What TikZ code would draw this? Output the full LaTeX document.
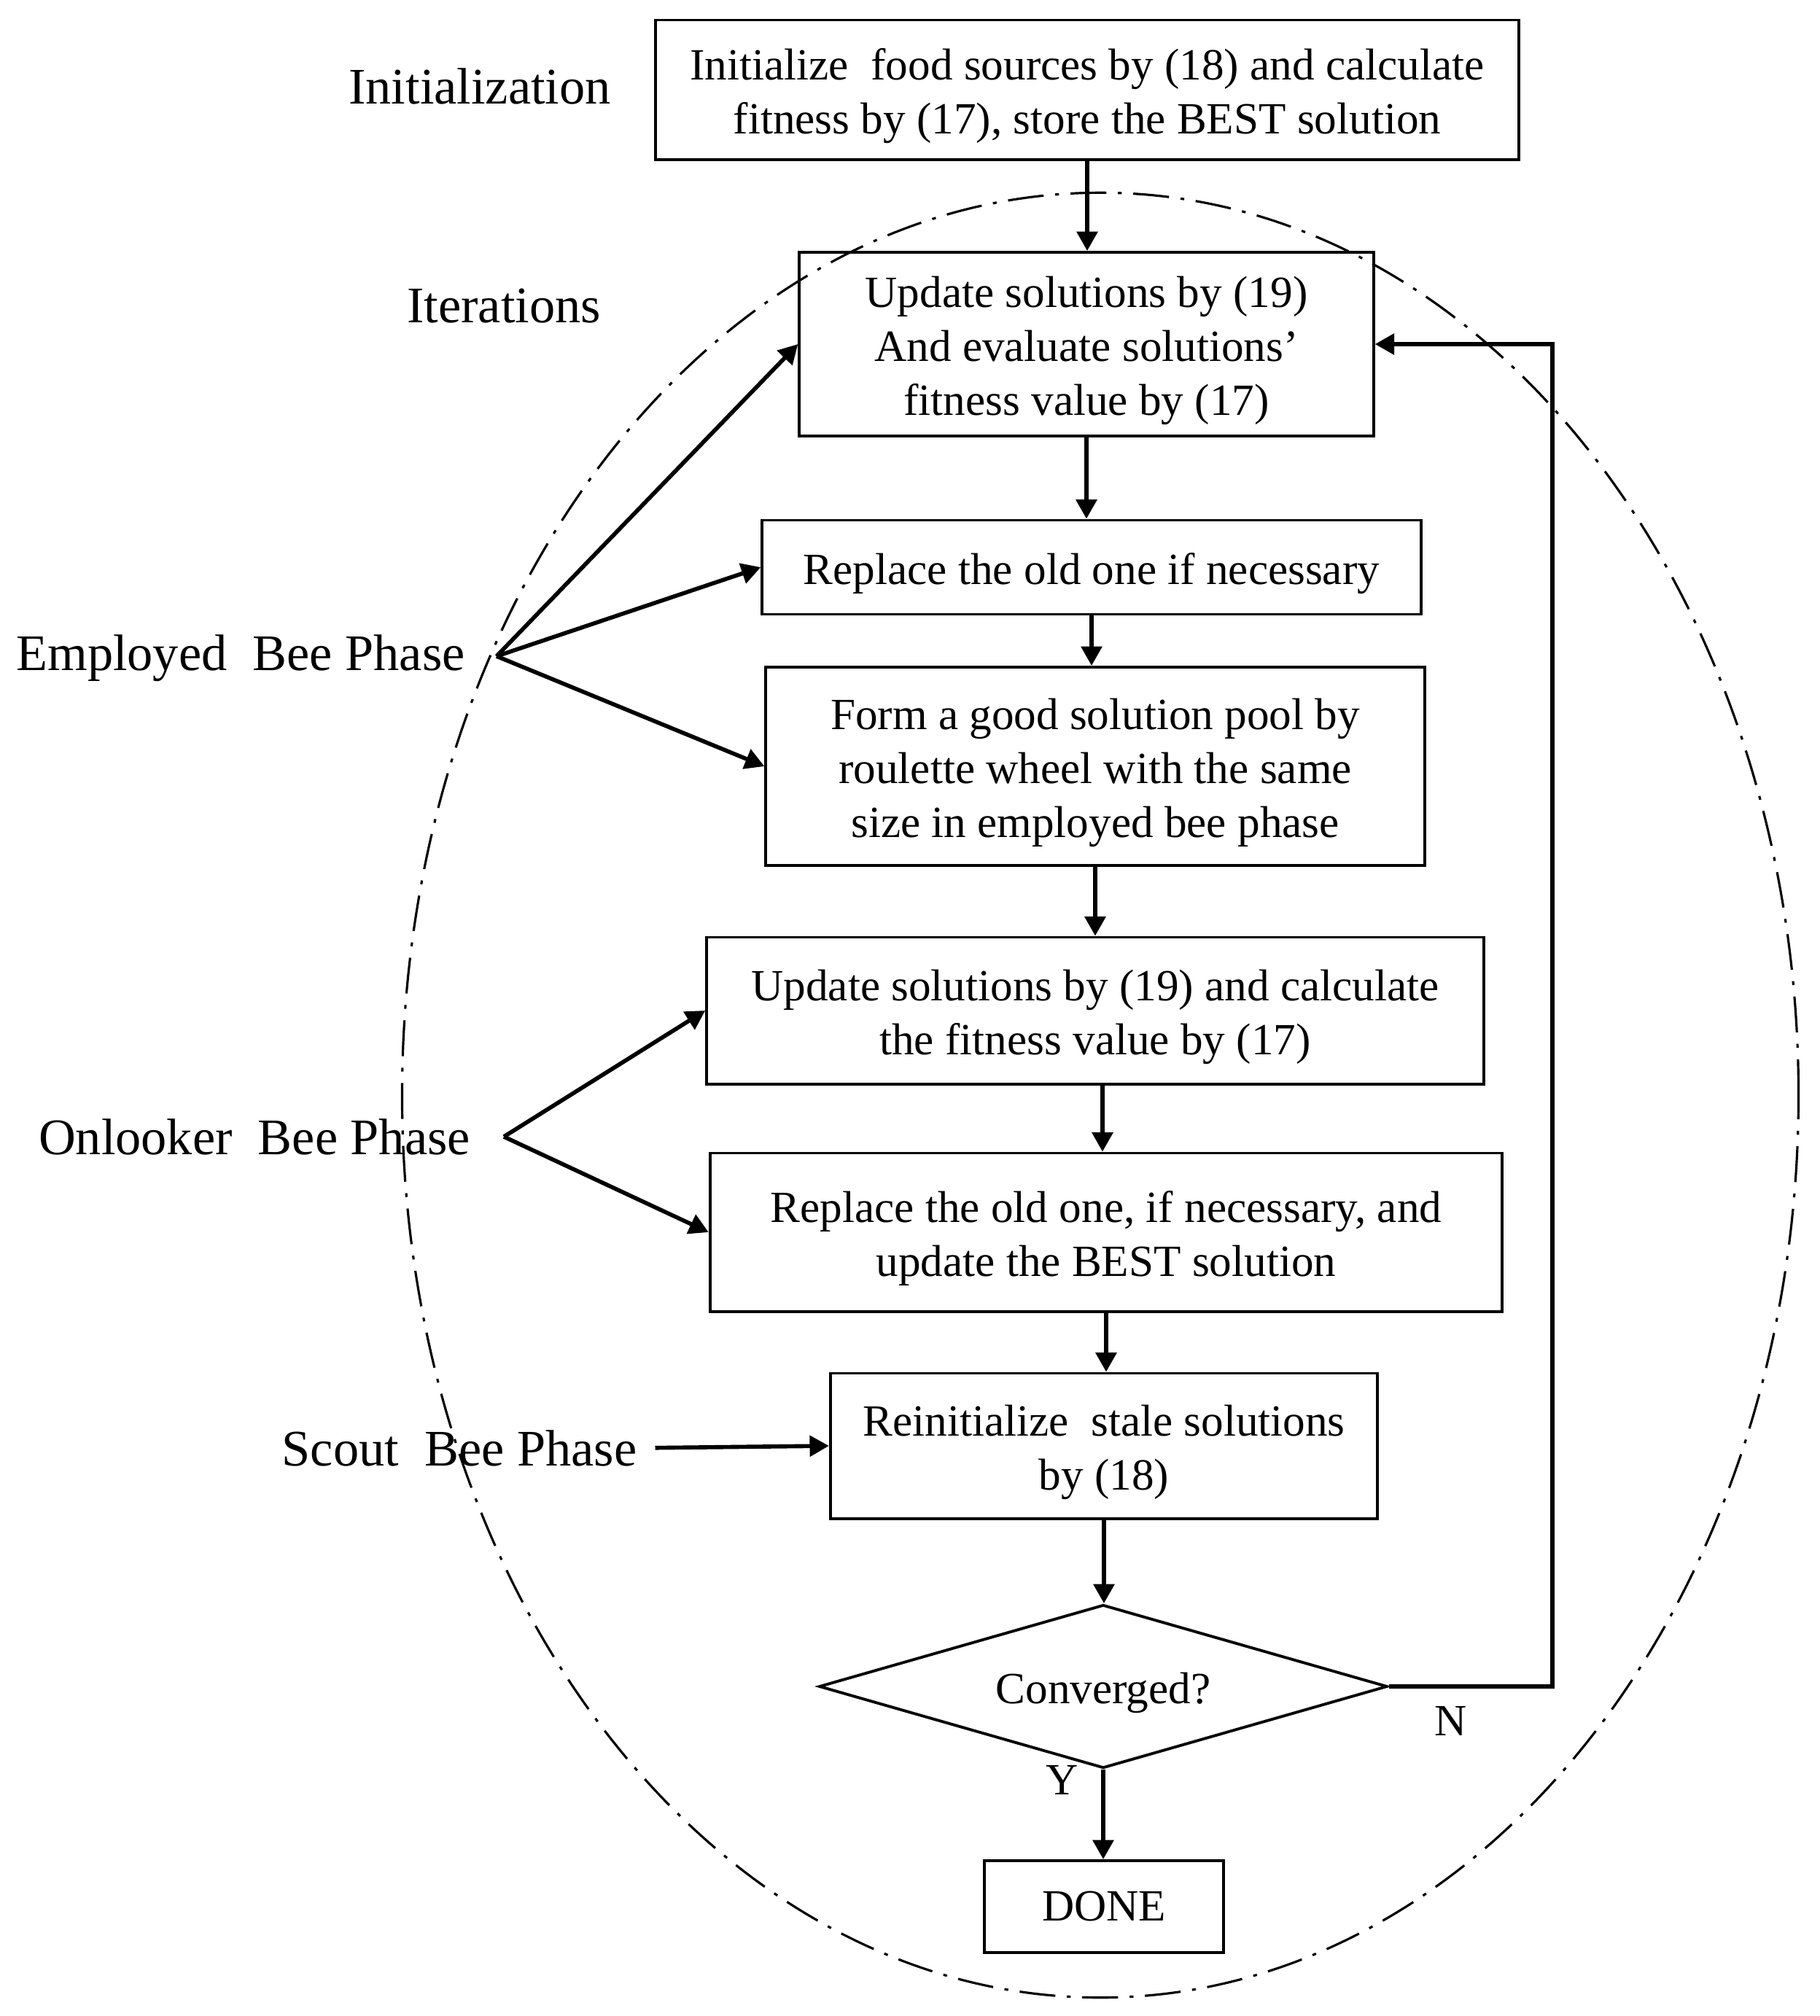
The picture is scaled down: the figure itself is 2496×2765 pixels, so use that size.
\documentclass[tikz,border=0pt]{standalone}
\usepackage{fontspec}
\setmainfont{Liberation Serif}
\usepackage{tikz}
\usetikzlibrary{arrows.meta,shapes.geometric}
\newcommand{\boxstrut}{\rule{0pt}{17pt}}

\begin{document}
\begin{tikzpicture}[x=0.01cm,y=-0.01cm,
  box/.style={draw,black,line width=1.1pt,inner sep=0pt,align=center,font=\fontsize{17.4}{21}\selectfont},
  phase/.style={inner sep=0pt,font=\fontsize{20}{24}\selectfont},
  yn/.style={inner sep=0pt,font=\fontsize{17.4}{21}\selectfont},
  link/.style={black,line width=1.6pt,-{Triangle[length=7.5pt,width=8pt]}}]
\useasboundingbox (0,0) rectangle (2496,2765);

\draw[black,line width=0.9pt,dash pattern=on 14pt off 4.5pt on 1.5pt off 4.5pt] (1509,1502) ellipse [x radius=9.57cm,y radius=12.37cm];

\node[phase] (initlab) at (658,118) {Initialization};
\node[phase] (iterlab) at (691,420) {Iterations};
\node[phase] (emplab) at (330,903) {Employed\ \ Bee Phase};
\node[phase] (onllab) at (349,1559) {Onlooker\ \ Bee Phase};
\node[phase] (scoutlab) at (630,1986) {Scout\ \ Bee Phase};

\node[box,minimum width=11.83cm,minimum height=1.91cm] (init) at (1491,123) {\boxstrut Initialize\ \ food sources by (18) and calculate\\fitness by (17), store the BEST solution};
\node[box,minimum width=7.87cm,minimum height=2.52cm] (upd) at (1490,472) {\boxstrut Update solutions by (19)\\And evaluate solutions'\\fitness value by (17)};
\node[box,minimum width=9.03cm,minimum height=1.29cm] (repl) at (1497,778) {\boxstrut Replace the old one if necessary};
\node[box,minimum width=9.03cm,minimum height=2.72cm] (pool) at (1502,1051) {\boxstrut Form a good solution pool by\\roulette wheel with the same\\size in employed bee phase};
\node[box,minimum width=10.65cm,minimum height=2.01cm] (onlupd) at (1502,1386) {\boxstrut Update solutions by (19) and calculate\\the fitness value by (17)};
\node[box,minimum width=10.86cm,minimum height=2.17cm] (onlrepl) at (1517,1690) {\boxstrut Replace the old one, if necessary, and\\update the BEST solution};
\node[box,minimum width=7.50cm,minimum height=1.99cm] (reinit) at (1514,1983) {\boxstrut Reinitialize\ \ stale solutions\\by (18)};
\node[box,diamond,aspect=3.48,minimum width=7.79cm,minimum height=2.24cm] (conv) at (1513,2313) {\boxstrut Converged?};
\node[box,minimum width=3.27cm,minimum height=1.26cm] (done) at (1514,2615) {DONE};

\coordinate (empfan) at (681,900);
\coordinate (onlfan) at (691,1559);
\coordinate (fb) at (2129,472);

\draw[link] (init.south) -- (init.south |- upd.north);
\draw[link] (upd.south) -- (upd.south |- repl.north);
\draw[link] (repl.south) -- (repl.south |- pool.north);
\draw[link] (pool.south) -- (pool.south |- onlupd.north);
\draw[link] ([xshift=0.1cm]onlupd.south) -- ([xshift=0.1cm]onlupd.south |- onlrepl.north);
\draw[link] (onlrepl.south) -- (onlrepl.south |- reinit.north);
\draw[link] (reinit.south) -- (reinit.south |- conv.north);
\draw[link] (conv.south) -- (conv.south |- done.north) node[yn,pos=0.12,left=9pt] (ylab) {Y};
\draw[link] (conv.east) -| (fb) -- (upd.east);
\node[yn] (nlab) at (1990,2360) {N};

\draw[link] (empfan) -- (upd.west);
\draw[link] (empfan) -- (repl.west);
\draw[link] (empfan) -- (pool.west);
\draw[link] (onlfan) -- (onlupd.west);
\draw[link] (onlfan) -- (onlrepl.west);
\draw[link,shorten <=7pt] (scoutlab.east) -- (reinit.west);

\end{tikzpicture}
\end{document}
